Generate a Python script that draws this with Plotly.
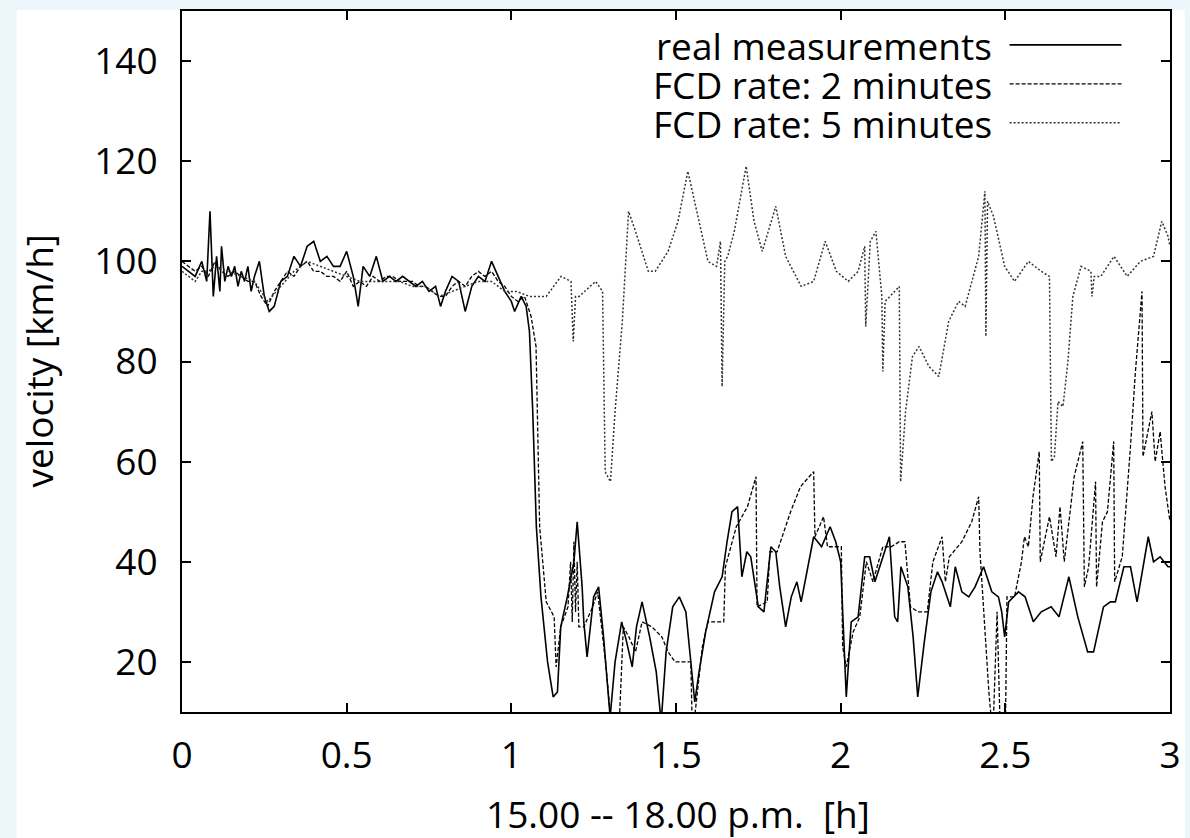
import plotly.graph_objects as go

# ---------------- data ----------------
real_t = [0.00, 0.02, 0.04, 0.06, 0.075, 0.085, 0.095, 0.105, 0.115, 0.12, 0.13, 0.14, 0.15, 0.16,
          0.17, 0.18, 0.19, 0.20, 0.21, 0.22, 0.235, 0.25, 0.265, 0.28, 0.30, 0.32, 0.34, 0.36, 0.38,
          0.40, 0.42, 0.44, 0.46, 0.48, 0.50, 0.52, 0.535, 0.55, 0.57, 0.59, 0.61, 0.63, 0.65, 0.67,
          0.69, 0.71, 0.73, 0.75, 0.77, 0.785, 0.80, 0.82, 0.84, 0.86, 0.88, 0.90, 0.92, 0.94, 0.96,
          0.98, 1.00, 1.01, 1.03, 1.045, 1.055, 1.065, 1.076, 1.09, 1.11, 1.127, 1.14, 1.15, 1.17,
          1.19, 1.20, 1.215, 1.22, 1.23, 1.25, 1.265, 1.28, 1.30, 1.315, 1.335, 1.35, 1.367, 1.38,
          1.397, 1.42, 1.44, 1.455, 1.47, 1.49, 1.51, 1.53, 1.545, 1.557, 1.57, 1.59, 1.617, 1.64,
          1.655, 1.67, 1.687, 1.70, 1.715, 1.727, 1.75, 1.767, 1.788, 1.803, 1.815, 1.833, 1.85,
          1.867, 1.88, 1.90, 1.918, 1.942, 1.968, 1.985, 2.0, 2.008, 2.017, 2.032, 2.053, 2.073,
          2.088, 2.104, 2.128, 2.148, 2.164, 2.173, 2.183, 2.204, 2.22, 2.234, 2.254, 2.274, 2.294,
          2.308, 2.333, 2.348, 2.368, 2.389, 2.408, 2.434, 2.459, 2.479, 2.489, 2.498, 2.51, 2.54,
          2.56, 2.585, 2.609, 2.639, 2.663, 2.693, 2.72, 2.75, 2.768, 2.798, 2.819, 2.834, 2.86,
          2.88, 2.90, 2.934, 2.95, 2.97, 2.994, 3.0]
real_v = [99, 98, 97, 100, 96, 110, 93, 101, 94, 103, 96, 99, 97, 99,
          95, 98, 96, 99, 94, 97, 100, 93, 90, 91, 96, 97, 101, 99, 103,
          104, 100, 101, 99, 99, 102, 97, 91, 99, 97, 101, 96, 97, 96, 97,
          96, 95, 96, 94, 95, 91, 94, 97, 96, 90, 95, 97, 96, 100, 97,
          94, 92, 90, 93, 91, 86, 70, 47, 33, 20, 13, 14, 27, 33,
          40, 48, 35, 28, 21, 33, 35, 25, 9, 20, 28, 24, 19, 27,
          32, 25, 18, 8, 22, 31, 33, 30, 20, 12, 18, 26, 34, 37,
          44, 50, 51, 37, 42, 41, 31, 30, 43, 42, 35, 27, 33,
          36, 32, 39, 45, 43, 47, 44, 40, 27, 13, 28, 29, 41,
          41, 36, 41, 45, 29, 28, 39, 35, 25, 13, 24, 34, 38,
          36, 31, 39, 34, 33, 35, 39, 34, 33, 30, 25, 32, 34,
          33, 28, 30, 31, 29, 37, 29, 22, 22, 31, 32, 32, 39,
          39, 32, 45, 40, 41, 39, 39]

fcd2_t = [0.00, 0.02, 0.04, 0.06, 0.08, 0.10, 0.12, 0.14, 0.16, 0.18, 0.20, 0.22, 0.24, 0.26, 0.28,
          0.30, 0.32, 0.34, 0.36, 0.38, 0.40, 0.42, 0.44, 0.46, 0.48, 0.50, 0.52, 0.54, 0.56, 0.58,
          0.60, 0.62, 0.64, 0.66, 0.68, 0.70, 0.72, 0.74, 0.76, 0.78, 0.80, 0.82, 0.84, 0.86, 0.88,
          0.90, 0.92, 0.94, 0.96, 0.98, 1.00, 1.02, 1.04, 1.06, 1.075, 1.086, 1.106, 1.13, 1.136,
          1.15, 1.172, 1.18, 1.185, 1.19, 1.195, 1.20, 1.205, 1.22, 1.247, 1.262, 1.286, 1.307,
          1.326, 1.34, 1.357, 1.377, 1.397, 1.427, 1.457, 1.476, 1.497, 1.545, 1.55, 1.58, 1.597,
          1.645, 1.65, 1.683, 1.717, 1.743, 1.746, 1.777, 1.785, 1.807, 1.848, 1.878, 1.918, 1.922,
          1.948, 1.96, 2.002, 2.006, 2.017, 2.038, 2.058, 2.078, 2.098, 2.128, 2.153, 2.178, 2.195,
          2.212, 2.235, 2.263, 2.28, 2.308, 2.318, 2.33, 2.368, 2.398, 2.419, 2.423, 2.45, 2.462,
          2.475, 2.485, 2.50, 2.505, 2.528, 2.549, 2.558, 2.57, 2.584, 2.603, 2.606, 2.634, 2.654,
          2.666, 2.679, 2.709, 2.735, 2.74, 2.753, 2.774, 2.777, 2.795, 2.81, 2.829, 2.832, 2.855,
          2.88, 2.895, 2.915, 2.918, 2.93, 2.945, 2.955, 2.97, 2.985, 3.0]
fcd2_v = [100, 99, 98, 99, 97, 100, 98, 97, 98, 97, 96, 96, 93, 91, 94,
          96, 98, 97, 99, 100, 98, 98, 97, 97, 96, 98, 95, 96, 95, 97,
          96, 97, 97, 96, 96, 96, 95, 95, 94, 93, 93, 95, 96, 95, 97,
          98, 97, 98, 96, 95, 93, 92, 93, 89, 83, 47, 32, 29, 19,
          27, 31, 40, 28, 44, 30, 40, 27, 27, 31, 34, 20, 5,
          5, 27, 25, 22, 28, 27, 25, 22, 20, 20, 5, 23, 28,
          28, 39, 47, 51, 57, 31, 32, 42, 42, 50, 55, 58, 45,
          49, 43, 43, 23, 19, 26, 29, 40, 36, 43, 43, 44, 44,
          31, 30, 30, 40, 45, 36, 41, 44, 48, 53, 42, 14, 5,
          30, 5, 5, 33, 33, 40, 45, 43, 53, 62, 40, 49, 41,
          51, 40, 57, 64, 35, 39, 56, 35, 48, 50, 64, 36, 41,
          63, 78, 94, 61, 65, 70, 60, 66, 55, 48]

fcd5_t = [0.00, 0.02, 0.04, 0.06, 0.08, 0.10, 0.14, 0.18, 0.22, 0.26, 0.30, 0.34, 0.38, 0.42, 0.46,
          0.50, 0.54, 0.58, 0.62, 0.66, 0.70, 0.74, 0.78, 0.82, 0.86, 0.90, 0.94, 0.98, 1.016,
          1.055, 1.106, 1.151, 1.181, 1.188, 1.195, 1.206, 1.256, 1.277, 1.285, 1.301, 1.315,
          1.337, 1.356, 1.377, 1.416, 1.437, 1.476, 1.506, 1.536, 1.56, 1.597, 1.623, 1.635, 1.64,
          1.648, 1.657, 1.677, 1.713, 1.737, 1.762, 1.803, 1.833, 1.88, 1.918, 1.953, 1.987, 2.023,
          2.053, 2.073, 2.076, 2.09, 2.107, 2.125, 2.128, 2.135, 2.164, 2.178, 2.182, 2.197, 2.218,
          2.238, 2.268, 2.298, 2.328, 2.358, 2.378, 2.398, 2.419, 2.438, 2.441, 2.446, 2.464, 2.498,
          2.528, 2.57, 2.609, 2.634, 2.64, 2.649, 2.66, 2.675, 2.69, 2.705, 2.73, 2.76, 2.763, 2.77,
          2.79, 2.83, 2.87, 2.91, 2.95, 2.975, 2.994, 3.0]
fcd5_v = [98, 97, 96, 98, 98, 99, 98, 97, 96, 92, 95, 98, 100, 99, 98,
          97, 96, 96, 96, 96, 95, 95, 93, 94, 95, 96, 96, 94, 94,
          93, 93, 97, 96, 84, 93, 93, 96, 94, 58, 56, 70,
          88, 110, 106, 98, 98, 102, 108, 118, 111, 100, 99, 104, 75,
          100, 101, 106, 119, 108, 102, 111, 101, 95, 96, 104, 98, 96,
          98, 103, 87, 104, 106, 93, 78, 92, 94, 95, 56, 70, 81,
          83, 79, 77, 88, 92, 91, 96, 101, 114, 85, 112, 109, 99,
          96, 100, 98, 97, 60, 61, 72, 71, 80, 93, 99, 98, 93, 97,
          97, 101, 97, 100, 101, 108, 105, 103]

series_names = ["real measurements", "FCD rate: 2 minutes", "FCD rate: 5 minutes"]
x_ticks = [0, 0.5, 1, 1.5, 2, 2.5, 3]
x_tick_text = ["0", "0.5", "1", "1.5", "2", "2.5", "3"]
y_ticks = [20, 40, 60, 80, 100, 120, 140]
x_title = "15.00 -- 18.00 p.m.  [h]"
y_title = "velocity [km/h]"

# ---------------- styling ----------------
FONT = "Open Sans"
FS = 37
styles = [
    dict(color="black", width=1.6, dash="solid"),
    dict(color="black", width=1.3, dash="4px,2px"),
    dict(color="#333333", width=1.5, dash="2px,2px"),
]

fig = go.Figure()
for name, xs, ys, st in zip(series_names, [real_t, fcd2_t, fcd5_t], [real_v, fcd2_v, fcd5_v], styles):
    fig.add_trace(go.Scatter(x=xs, y=ys, mode="lines", name=name, line=st, showlegend=False))

W, H = 1190, 838
ml, mr, mt, mb = 182, 10, 9, 126
pw, ph = W - ml - mr, H - mt - mb

def px_x(p):
    return (p - ml) / pw

def px_y(p):
    return (H - mb - p) / ph

shapes = [
    dict(type="rect", xref="paper", yref="paper", x0=px_x(15), x1=px_x(1195), y0=px_y(845), y1=px_y(8),
         fillcolor="white", line=dict(width=0), layer="below"),
]
annotations = []
legend_rows = [43, 82, 121]
for name, row, st in zip(series_names, legend_rows, styles):
    annotations.append(dict(xref="paper", yref="paper", x=px_x(1002), y=px_y(row), text=name,
                            showarrow=False, xanchor="right", yanchor="middle", height=36,
                            valign="middle",
                            font=dict(family=FONT, size=FS, color="black")))
    shapes.append(dict(type="line", xref="paper", yref="paper", x0=px_x(1018), x1=px_x(1131),
                       y0=px_y(row), y1=px_y(row), line=st))

annotations.append(dict(xref="paper", yref="paper", x=px_x(683), y=px_y(814), text=x_title,
                        showarrow=False, xanchor="center", yanchor="middle",
                        font=dict(family=FONT, size=FS, color="black")))
annotations.append(dict(xref="paper", yref="paper", x=px_x(37), y=px_y(360), text=y_title,
                        showarrow=False, xanchor="center", yanchor="middle", textangle=-90,
                        font=dict(family=FONT, size=FS, color="black")))

fig.update_layout(
    width=W, height=H,
    margin=dict(l=ml, r=mr, t=mt, b=mb, pad=0),
    paper_bgcolor="#edf6fb",
    plot_bgcolor="white",
    font=dict(family=FONT, size=FS, color="black"),
    shapes=shapes,
    annotations=annotations,
    showlegend=False,
)
fig.update_xaxes(range=[0, 3], tickvals=x_ticks, ticktext=x_tick_text, ticks="inside", ticklen=9,
                 tickwidth=1.5, tickcolor="black", showline=True, linewidth=2, linecolor="black",
                 mirror="ticks", showgrid=False, zeroline=False, ticklabelstandoff=10,
                 tickfont=dict(family=FONT, size=FS, color="black"))
fig.update_yaxes(range=[10, 150], tickvals=y_ticks, ticks="inside", ticklen=9,
                 tickwidth=1.5, tickcolor="black", showline=True, linewidth=2, linecolor="black",
                 mirror="ticks", showgrid=False, zeroline=False, ticklabelstandoff=15,
                 tickfont=dict(family=FONT, size=FS, color="black"))

fig.write_html("out.html", config={"displayModeBar": False},
               post_script="document.body.style.margin='0px';document.body.style.overflow='hidden';")
